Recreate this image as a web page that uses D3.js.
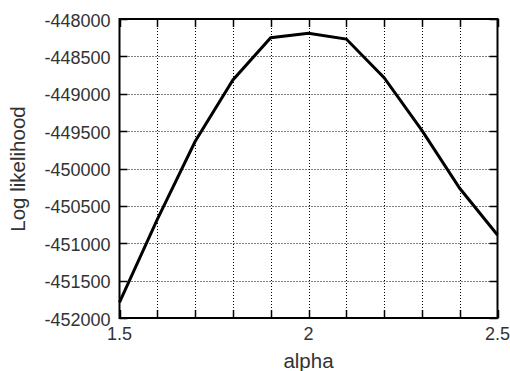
<!DOCTYPE html>
<html>
<head>
<meta charset="utf-8">
<script src="https://d3js.org/d3.v7.min.js"></script>
<style>
  body { margin: 0; background: #fff; }
  svg { display: block; }
  text { font-family: "Liberation Sans", Arial, Helvetica, sans-serif; fill: #333; }
</style>
</head>
<body>
<svg id="chart" width="510" height="371"></svg>
<script>
const alphaValues = [1.5, 1.6, 1.7, 1.8, 1.9, 2.0, 2.1, 2.2, 2.3, 2.4, 2.5];
const logLikelihood = [-451790, -450680, -449640, -448815, -448250, -448190, -448268, -448785, -449490, -450265, -450890];
const xTickLabels = [1.5, 2, 2.5];
const xGridTicks = [1.5, 1.6, 1.7, 1.8, 1.9, 2.0, 2.1, 2.2, 2.3, 2.4, 2.5];
const yTicks = [-448000, -448500, -449000, -449500, -450000, -450500, -451000, -451500, -452000];

const svg = d3.select("#chart");
const L = 119.5, R = 497.5, T = 19, B = 318;
const x = d3.scaleLinear().domain([1.5, 2.5]).range([L, R]);
const y = d3.scaleLinear().domain([-452000, -448000]).range([B, T]);

// grid
const grid = svg.append("g").attr("stroke", "#000").attr("stroke-width", 1).attr("stroke-dasharray", "1,2");
grid.selectAll(".gx").data(xGridTicks.slice(1, -1)).enter().append("line")
  .attr("x1", d => Math.round(x(d)) + 0.5).attr("x2", d => Math.round(x(d)) + 0.5)
  .attr("y1", T).attr("y2", B);
grid.selectAll(".gy").data(yTicks.slice(1, -1)).enter().append("line")
  .attr("y1", d => Math.round(y(d)) + 0.5).attr("y2", d => Math.round(y(d)) + 0.5)
  .attr("x1", L).attr("x2", R);

// ticks (inward, mirrored)
const tl = 8;
const ticks = svg.append("g").attr("stroke", "#000").attr("stroke-width", 1.5);
xGridTicks.forEach(d => {
  const px = Math.round(x(d)) + 0.5;
  ticks.append("line").attr("x1", px).attr("x2", px).attr("y1", B).attr("y2", B - tl);
  ticks.append("line").attr("x1", px).attr("x2", px).attr("y1", T).attr("y2", T + tl);
});
yTicks.forEach(d => {
  const py = Math.round(y(d)) + 0.5;
  ticks.append("line").attr("y1", py).attr("y2", py).attr("x1", L).attr("x2", L + tl);
  ticks.append("line").attr("y1", py).attr("y2", py).attr("x1", R).attr("x2", R - tl);
});

// frame
svg.append("rect").attr("x", L).attr("y", T).attr("width", R - L).attr("height", B - T)
  .attr("fill", "none").attr("stroke", "#000").attr("stroke-width", 2);

// data line
const line = d3.line().x((d, i) => x(alphaValues[i])).y(d => y(d));
svg.append("path").datum(logLikelihood).attr("d", line)
  .attr("fill", "none").attr("stroke", "#000").attr("stroke-width", 3).attr("stroke-linejoin", "miter");

// tick labels
svg.append("g").selectAll("text").data(yTicks).enter().append("text")
  .attr("x", L - 9).attr("y", d => y(d)).attr("dy", "0.42em")
  .attr("text-anchor", "end").attr("font-size", 18).text(d => d);
svg.append("g").selectAll("text").data(xTickLabels).enter().append("text")
  .attr("x", d => x(d)).attr("y", 340)
  .attr("text-anchor", "middle").attr("font-size", 18).text(d => d);

// axis titles
svg.append("text").attr("x", (L + R) / 2).attr("y", 368).attr("text-anchor", "middle")
  .attr("font-size", 20.5).text("alpha");
svg.append("text").attr("transform", `translate(25,169) rotate(-90)`)
  .attr("text-anchor", "middle").attr("font-size", 20.5).text("Log likelihood");
</script>
</body>
</html>
